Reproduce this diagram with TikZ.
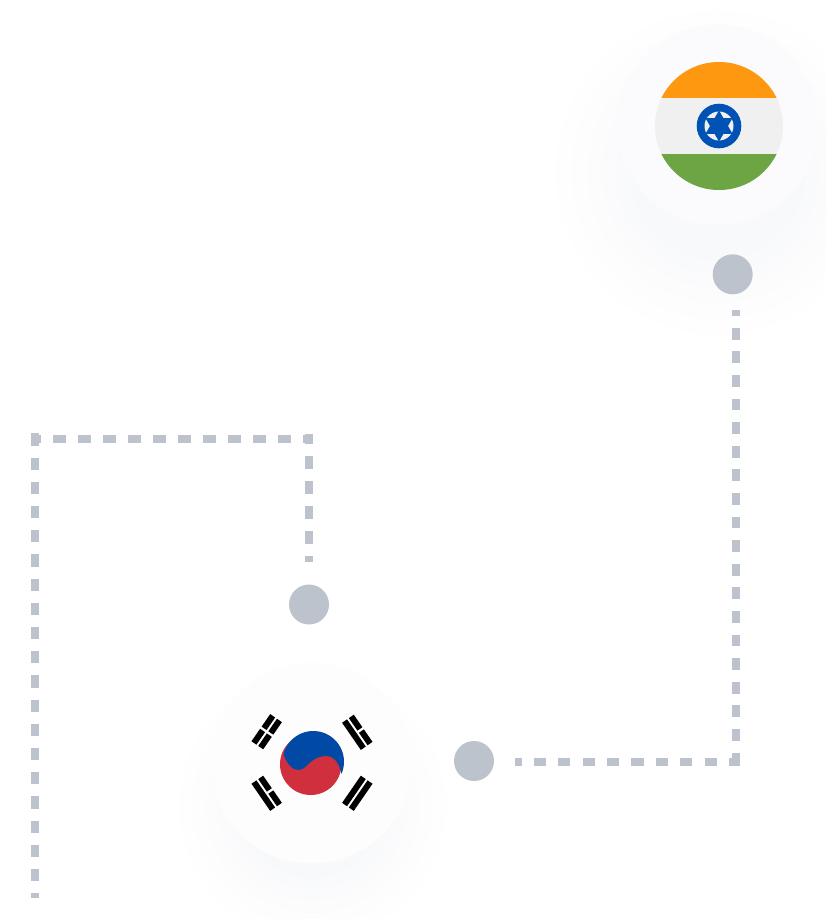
\documentclass[tikz,border=0pt]{standalone}
\definecolor{routegrey}{HTML}{BCC3CC}
\definecolor{halofill}{HTML}{FBFBFD}
\definecolor{halopale}{HTML}{FDFDFE}
\definecolor{glow}{HTML}{F8F9FB}
\definecolor{glowmid}{HTML}{FCFCFD}
\definecolor{saffron}{HTML}{FF9811}
\definecolor{paleband}{HTML}{F0F0F0}
\definecolor{leaf}{HTML}{6DA544}
\definecolor{wheelblue}{HTML}{0052B4}
\definecolor{taeblue}{HTML}{0049A4}
\definecolor{taered}{HTML}{D02F3E}
\pgfdeclareradialshading{softglow}{\pgfpoint{0bp}{0bp}}{color(0bp)=(glow); color(12bp)=(glow); color(18bp)=(glowmid); color(25bp)=(white); color(50bp)=(white)}
\tikzset{
  x=1pt, y=-1pt,
  stop/.style={circle,fill=routegrey,minimum size=40pt,inner sep=0pt,outer sep=0pt},
  route/.style={draw=routegrey,line width=8pt,line cap=butt},
  halo/.style={circle,fill=#1,minimum size=201pt,inner sep=0pt,outer sep=0pt},
  bar/.style={fill=black},
}
\newcommand{\solidbar}[1]{\fill[bar] (#1-3,-16.5) rectangle (#1+3,16.5);}
\newcommand{\splitbar}[1]{\fill[bar] (#1-3,-16.5) rectangle (#1+3,-1.3);\fill[bar] (#1-3,1.3) rectangle (#1+3,16.5);}
\begin{document}
\begin{tikzpicture}
\useasboundingbox (0,0) rectangle (826,919);
\clip (0,0) rectangle (826,919);
\fill[white] (0,0) rectangle (826,919);

% soft glows under the two badges
\shade[shading=softglow] (717,172) circle (170);
\shade[shading=softglow] (312,805) circle (140);

% badges
\node[halo=halofill] (indiaBadge) at (717.5,125) {};
\node[halo=halopale] (koreaBadge) at (311.5,763) {};

% route stops
\node[stop] (stopIndia) at (732.7,274.3) {};
\node[stop] (stopKoreaTop) at (309,604.5) {};
\node[stop] (stopKoreaSide) at (474,761) {};

% route ends and corners
\coordinate (rightTop) at (736,310);
\coordinate (rightCorner) at (736,765.7);
\coordinate (lowStart) at (515.3,761.7);
\coordinate (lowCorner) at (740,761.7);
\coordinate (leftEnd) at (35,898);
\coordinate (leftCorner) at (35,433.3);
\coordinate (topStart) at (31,438.7);
\coordinate (topEnd) at (313,438.7);
\coordinate (dropTop) at (309,434);
\coordinate (dropEnd) at (309,562);

% dashed routes
\draw[route,dash pattern=on 11.8pt off 11.8pt,dash phase=5.8pt] (rightTop) -- (rightCorner);
\draw[route,dash pattern=on 12.2pt off 12.2pt,dash phase=6pt] (lowStart) -- (lowCorner);
\draw[route,dash pattern=on 12.2pt off 12pt] (leftCorner) -- (leftEnd);
\draw[route,dash pattern=on 12.5pt off 12.5pt,dash phase=2.8pt] (topStart) -- (topEnd);
\draw[route,dash pattern=on 12.5pt off 12.5pt,dash phase=2.8pt] (dropTop) -- (dropEnd);

% India roundel
\begin{scope}
  \clip (719,126) circle (64);
  \fill[paleband] (655,60) rectangle (785,192);
  \fill[saffron] (655,60) rectangle (785,98);
  \fill[leaf] (655,154) rectangle (785,192);
\end{scope}
\fill[wheelblue] (719,126) circle (22.3);
\fill[paleband] (719,126) circle (14.5);
\fill[wheelblue] (719,126)
  \foreach \k in {0,...,5} {
    \ifnum\k=0 ++(90:15.5) \else -- ([shift={(719,126)}]{90+60*\k}:15.5) \fi
    -- ([shift={(719,126)}]{120+60*\k}:9)
  } -- cycle;

% Korea roundel
\fill[taered] (310.7,764.3) circle (30.7);
\begin{scope}
  \clip (282.7,751.7) .. controls (286,763) and (292,770) .. (298.5,770)
        .. controls (307,770) and (310,756) .. (326.5,756)
        .. controls (335,756) and (340,765) .. (341.7,775)
        -- (352,775) -- (352,720) -- (272,720) -- (272,751.7) -- cycle;
  \fill[taeblue] (313.3,761.7) circle (30.7);
\end{scope}
\begin{scope}[shift={(266.7,731.7)},rotate=145.4]
  \splitbar{4.1} \splitbar{-4.1}
\end{scope}
\begin{scope}[shift={(357.3,732.3)},rotate=34.6]
  \splitbar{4.1} \solidbar{-4.1}
\end{scope}
\begin{scope}[shift={(266.7,793.3)},rotate=-145.4]
  \solidbar{4.1} \splitbar{-4.1}
\end{scope}
\begin{scope}[shift={(357.3,793.3)},rotate=-34.6]
  \solidbar{4.1} \solidbar{-4.1}
\end{scope}
\end{tikzpicture}
\end{document}
